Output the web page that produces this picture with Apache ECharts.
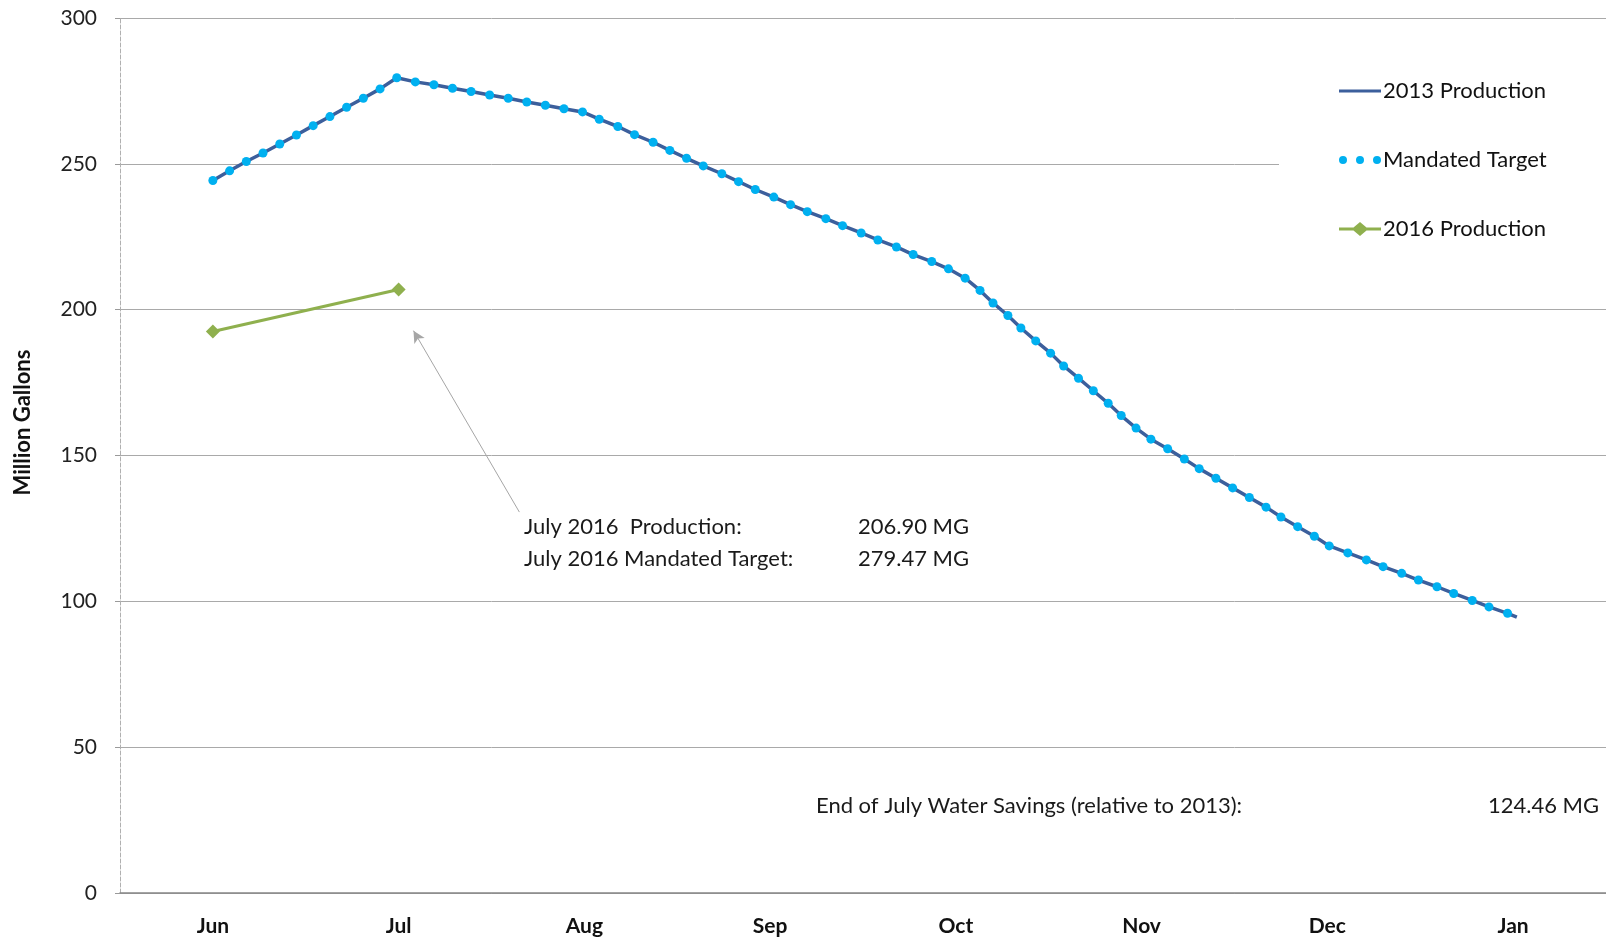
<!DOCTYPE html>
<html>
<head>
<meta charset="utf-8">
<script src="https://cdn.jsdelivr.net/npm/echarts@6/dist/echarts.min.js"></script>
<style>
  html, body { margin: 0; padding: 0; background: #fff; }
  #chart { width: 1606px; height: 938px; }
</style>
</head>
<body>
<div id="chart"></div>
<script>
// month bands on the axis (0..8, Jun = band 0)
const monthLabels = ['Jun', 'Jul', 'Aug', 'Sep', 'Oct', 'Nov', 'Dec', 'Jan'];

// position of each reading, in months from the start of June
const xPos = [
  0.50, 0.59, 0.68, 0.77, 0.86, 0.95, 1.04, 1.13, 1.22, 1.31, 1.40, 1.49,
  1.59, 1.69, 1.79, 1.89, 1.99, 2.09,
  2.19, 2.29, 2.39, 2.49, 2.58, 2.68, 2.77, 2.87, 2.96, 3.05, 3.14, 3.24, 3.33, 3.42, 3.52, 3.61, 3.70, 3.80, 3.89,
  3.99, 4.08, 4.18, 4.27, 4.37, 4.46, 4.55, 4.63, 4.70, 4.78, 4.85, 4.93, 5.01, 5.08, 5.16, 5.24, 5.32, 5.39, 5.47, 5.55, 5.64,
  5.73, 5.81, 5.90, 5.99, 6.08, 6.17, 6.25, 6.34, 6.43, 6.51, 6.61, 6.71, 6.80, 6.90, 6.99, 7.09, 7.18, 7.28, 7.37, 7.47,
  7.52
];

// 2013 production (million gallons)
const prod2013 = [
  244.3, 247.6, 250.8, 253.7, 256.8, 259.9, 263.1, 266.2, 269.4, 272.5, 275.7, 279.5,
  278.1, 277.1, 275.9, 274.8, 273.6, 272.5,
  271.2, 270.1, 268.9, 267.8, 265.3, 262.8, 260.0, 257.4, 254.6, 251.9, 249.3, 246.6, 243.9, 241.2, 238.6, 236.0, 233.6, 231.2, 228.8,
  226.3, 223.9, 221.5, 218.9, 216.5, 214.0, 210.8, 206.6, 202.3, 198.0, 193.7, 189.3, 185.1, 180.7, 176.5, 172.2, 167.9, 163.7, 159.4, 155.6, 152.3,
  148.8, 145.5, 142.2, 138.9, 135.6, 132.3, 128.9, 125.6, 122.3, 119.0, 116.6, 114.2, 111.9, 109.6, 107.3, 105.0, 102.7, 100.3, 98.1, 95.9,
  94.6
];

// mandated target sits on the 2013 curve, without the last reading
const mandatedTarget = prod2013.slice(0, 78);

// 2016 production
const prod2016X = [0.5, 1.5];
const prod2016 = [192.5, 206.9];

const yTicks = [0, 300, 50];

const FONT = 'Lato, "Open Sans", sans-serif';
const BLUE = '#3c5f9c', CYAN = '#00b0f0', GREEN = '#8fb04e';
const chart = echarts.init(document.getElementById('chart'));

const toPairs = (xs, ys) => ys.map((v, i) => [xs[i], v]);

// legend icons (the M0,0 / M42,14 moves pin the icon box to 42x14)
const iconLine = 'path://M0,0L0,0M0,5.5L42,5.5L42,8.5L0,8.5ZM42,14L42,14';
const iconDots = 'path://M0,0L0,0M0,7a4,4 0 1,0 8,0a4,4 0 1,0 -8,0M17,7a4,4 0 1,0 8,0a4,4 0 1,0 -8,0M34,7a4,4 0 1,0 8,0a4,4 0 1,0 -8,0M42,14L42,14';
const iconDiamond = 'path://M0,0L0,0M0,5.5L14.5,5.5L21,0L27.5,5.5L42,5.5L42,8.5L27.5,8.5L21,14L14.5,8.5L0,8.5ZM42,14L42,14';

const txt = (text, left, top) => ({ type: 'text', left, top, style: { text, font: '22px ' + FONT, fill: '#1a1a1a' } });

chart.setOption({
  animation: false,
  backgroundColor: '#fff',
  grid: { left: 120, right: 0, top: 18, bottom: 45, containLabel: false },
  legend: {
    orient: 'vertical',
    left: 1279, top: 29,
    padding: [50, 120, 50, 60],
    backgroundColor: '#fff',
    itemWidth: 42, itemHeight: 14, itemGap: 45,
    textStyle: { fontFamily: FONT, fontSize: 22, color: '#111', lineHeight: 24, padding: [0, 0, 0, -3] },
    data: [
      { name: '2013 Production', icon: iconLine },
      { name: 'Mandated Target', icon: iconDots },
      { name: '2016 Production', icon: iconDiamond }
    ]
  },
  xAxis: [
    { type: 'value', min: 0, max: 8, show: false },
    {
      type: 'category', data: monthLabels, boundaryGap: true, position: 'bottom',
      axisLine: { lineStyle: { color: '#868686', width: 1.5 } },
      axisTick: { inside: true, length: 10, lineStyle: { color: '#868686' } },
      axisLabel: { fontFamily: FONT, fontSize: 21, fontWeight: 'bold', color: '#111', margin: 23 },
      splitLine: { show: false }
    }
  ],
  yAxis: {
    type: 'value', min: yTicks[0], max: yTicks[1], interval: yTicks[2],
    name: 'Million Gallons', nameLocation: 'middle', nameGap: 86,
    nameTextStyle: { fontFamily: FONT, fontSize: 22, fontWeight: 'bold', color: '#111', padding: [0, 0, 0, 66] },
    axisLine: { show: true, lineStyle: { color: '#b0b0b0', type: 'dashed', width: 1 } },
    axisTick: { show: true, length: 5, lineStyle: { color: '#9a9a9a' } },
    axisLabel: { fontFamily: FONT, fontSize: 21, color: '#222', margin: 23 },
    splitLine: { lineStyle: { color: '#a9a9a9', width: 1 } }
  },
  graphic: [
    txt('July 2016  Production:', 524, 516),
    txt('206.90 MG', 858, 516),
    txt('July 2016 Mandated Target:', 524, 548),
    txt('279.47 MG', 858, 548),
    txt('End of July Water Savings (relative to 2013):', 816, 795),
    txt('124.46 MG', 1488, 795)
  ],
  series: [
    {
      name: '2013 Production', type: 'line', xAxisIndex: 0,
      data: toPairs(xPos, prod2013),
      symbol: 'none', color: BLUE,
      lineStyle: { width: 3.5, color: BLUE }
    },
    {
      name: 'Mandated Target', type: 'line', xAxisIndex: 0,
      data: toPairs(xPos, mandatedTarget),
      symbol: 'circle', symbolSize: 9, showSymbol: true, color: CYAN,
      itemStyle: { color: CYAN, borderWidth: 0 },
      lineStyle: { width: 0, opacity: 0 }
    },
    {
      name: '2016 Production', type: 'line', xAxisIndex: 0,
      data: toPairs(prod2016X, prod2016),
      symbol: 'diamond', symbolSize: 14, color: GREEN,
      itemStyle: { color: GREEN, borderWidth: 0 },
      lineStyle: { width: 3, color: GREEN },
      markLine: {
        silent: true, symbol: ['none', 'arrow'], symbolSize: [9, 12],
        lineStyle: { color: '#a6a6a6', width: 1, type: 'solid' },
        label: { show: false },
        data: [[{ coord: [2.15, 130.6] }, { coord: [1.58, 192.8] }]]
      }
    }
  ]
});
</script>
</body>
</html>
